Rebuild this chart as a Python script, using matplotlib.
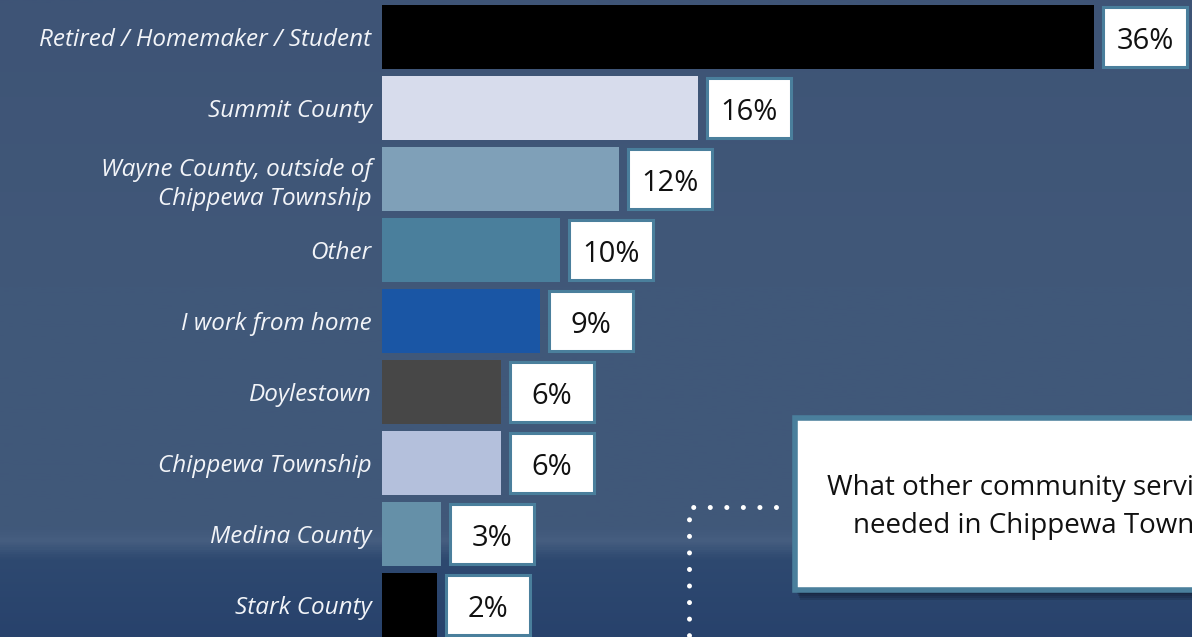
import numpy as np
import matplotlib
matplotlib.use("Agg")
import matplotlib.pyplot as plt
from matplotlib.patches import Rectangle
from matplotlib.colors import LinearSegmentedColormap

# ---------------- data ----------------
categories = [
    "Retired / Homemaker / Student",
    "Summit County",
    "Wayne County, outside of\nChippewa Township",
    "Other",
    "I work from home",
    "Doylestown",
    "Chippewa Township",
    "Medina County",
    "Stark County",
]
bar_values = [36, 16, 12, 9.0, 8.0, 6, 6, 3, 2.8]          # bar lengths as drawn
value_labels = ["36%", "16%", "12%", "10%", "9%", "6%", "6%", "3%", "2%"]
bar_colors = ["#000000", "#d7dcec", "#7fa0b8", "#4a7f9c", "#1a56a5",
              "#474747", "#b4c0dc", "#6590a8", "#000000"]
question_lines = ["What other community services are", "needed in Chippewa Township?"]

FONT = "Open Sans"

# ---------------- figure ----------------
W, H, DPI = 1192, 637, 100
fig = plt.figure(figsize=(W / DPI, H / DPI), dpi=DPI)

# background gradient
bg = fig.add_axes([0, 0, 1, 1], zorder=-10)
bg.set_axis_off()
stops = [(0.0, (62, 84, 118)), (0.45, (65, 88, 121)), (0.83, (64, 88, 122)),
         (0.85, (70, 94, 128)), (0.88, (46, 73, 112)), (1.0, (40, 66, 108))]
cmap_bg = LinearSegmentedColormap.from_list(
    "bg", [(p, tuple(c / 255 for c in col)) for p, col in stops])
grad = np.linspace(0, 1, 600).reshape(-1, 1)
bg.imshow(grad, aspect="auto", cmap=cmap_bg, extent=[0, 1, 1, 0])
bg.set_xlim(0, 1)
bg.set_ylim(1, 0)

# main axes: left at bar origin
x0 = 382
px_per_unit = 19.78
ax = fig.add_axes([x0 / W, 0, (W - x0) / W, 1])
ax.set_xlim(0, (W - x0) / px_per_unit)
step = 71.0
first_c = 37.0
ax.set_ylim((H - first_c) / step, -first_c / step)
ax.patch.set_alpha(0)
for s in ax.spines.values():
    s.set_visible(False)
ax.set_xticks([])

y = np.arange(len(categories))
ax.barh(y, bar_values, height=64 / step, color=bar_colors, zorder=2)

ax.set_yticks(y)
ax.set_yticklabels(categories, fontfamily=FONT, fontstyle="italic",
                   fontsize=17.5, color="#f2f4f8")
for t in ax.get_yticklabels():
    t.set_linespacing(1.28)
ax.tick_params(axis="y", length=0, pad=7.5)

# value label boxes
gap = 9 / px_per_unit
bw = 84 / px_per_unit
bh = 60 / step
base_off = 12.0 / step
for yi, v, lab in zip(y, bar_values, value_labels):
    ax.add_patch(Rectangle((v + gap, yi - bh / 2), bw, bh, facecolor="white",
                           edgecolor="#4a7f9c", linewidth=2.2, zorder=3))
    ax.text(v + gap + bw / 2, yi + base_off, lab, ha="center", va="baseline",
            fontfamily=FONT, fontsize=21, color="#111111", zorder=4)

# question box (overlay axes in pixel coords)
ov = fig.add_axes([0, 0, 1, 1], zorder=5)
ov.set_xlim(0, W)
ov.set_ylim(H, 0)
ov.set_axis_off()
ov.patch.set_alpha(0)

# shadow
for k in range(4):
    ov.add_patch(Rectangle((797 + k, 420 + 2 * k), 420, 174, facecolor="#0b1424",
                           alpha=0.18, edgecolor="none", zorder=1))
ov.add_patch(Rectangle((795, 418), 420, 172, facecolor="white",
                       edgecolor="#4a7f9c", linewidth=4, zorder=2))
ov.text(827, 495, question_lines[0], ha="left", va="baseline",
        fontfamily=FONT, fontsize=20, color="#111111", zorder=3)
ov.text(853, 533, question_lines[1], ha="left", va="baseline",
        fontfamily=FONT, fontsize=20, color="#111111", zorder=3)

# dotted connector
ov.plot([776, 689, 689], [507, 507, 645], linestyle=(0, (0.01, 3.3)),
        color="white", linewidth=3.6, solid_capstyle="round",
        dash_capstyle="round", zorder=3)

fig.savefig("out.png", dpi=DPI)
